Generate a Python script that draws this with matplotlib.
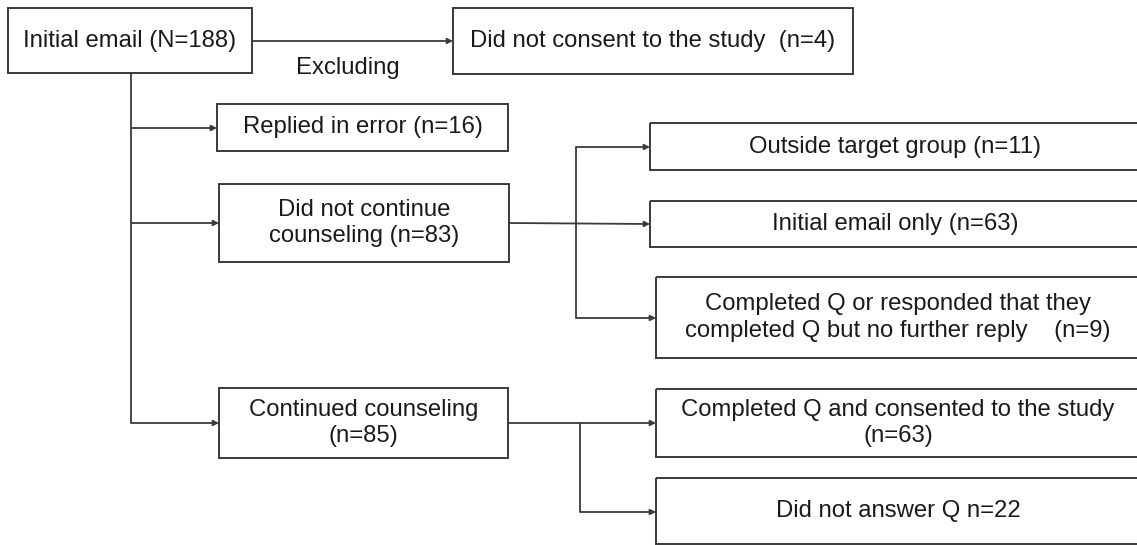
import matplotlib
matplotlib.use("Agg")
import matplotlib.pyplot as plt
from matplotlib.patches import Rectangle

plt.rcParams['font.family'] = ['Liberation Sans', 'DejaVu Sans']

# box labels
start_label = "Initial email (N=188)"
excluded_label = "Did not consent to the study  (n=4)"
branch_labels = ["Replied in error (n=16)",
                 "Did not continue\ncounseling (n=83)",
                 "Continued counseling\n(n=85)"]
stopped_labels = ["Outside target group (n=11)",
                  "Initial email only (n=63)",
                  "Completed Q or responded that they\ncompleted Q but no further reply    (n=9)"]
continued_labels = ["Completed Q and consented to the study\n(n=63)",
                    "Did not answer Q n=22"]
note_label = "Excluding"

LINE = "#3a3a3a"
FS = 17.2

fig = plt.figure(figsize=(11.37, 5.45), dpi=100)
ax = fig.add_axes([0, 0, 1, 1])
ax.set_xlim(0, 1137)
ax.set_ylim(545, 0)
ax.axis("off")


def box(x0, y0, x1, y1, label, fs=FS):
    ax.add_patch(Rectangle((x0, y0), x1 - x0, y1 - y0, fill=False,
                           edgecolor=LINE, linewidth=1.4))
    ax.text((x0 + x1) / 2, (y0 + y1) / 2, label, ha="center", va="center",
            fontsize=fs, color="#1a1a1a", linespacing=1.26)


def arrow(x0, y0, x1, y1):
    ax.annotate("", xy=(x1, y1), xytext=(x0, y0),
                arrowprops=dict(arrowstyle="-|>", color=LINE, lw=1.3,
                                mutation_scale=8, shrinkA=0, shrinkB=0))


def line(xs, ys):
    ax.plot(xs, ys, color=LINE, lw=1.3, solid_capstyle="butt")


box(8, 8, 252, 73, start_label)
box(453, 8, 853, 74, excluded_label)
arrow(252, 41, 453, 41)
ax.text(348, 68, note_label, ha="center", va="center", fontsize=FS, color="#1a1a1a")

# trunk with three branches
line([131, 131], [73, 423])
branch_boxes = [(217, 104, 508, 151), (219, 184, 509, 262), (219, 388, 508, 458)]
for (x0, y0, x1, y1), lab in zip(branch_boxes, branch_labels):
    box(x0, y0, x1, y1, lab)
    ym = (y0 + y1) / 2 if lab != branch_labels[0] else 128
    arrow(131, ym, x0, ym)

# did not continue -> three outcomes
stopped_boxes = [(650, 123, 1140, 170), (650, 201, 1140, 247), (656, 277, 1140, 358)]
for (x0, y0, x1, y1), lab in zip(stopped_boxes, stopped_labels):
    box(x0, y0, x1, y1, lab)
arrow(509, 223, 650, 224)
line([576, 576], [147, 318])
arrow(576, 147, 650, 147)
arrow(576, 318, 656, 318)

# continued -> two outcomes
continued_boxes = [(656, 389, 1140, 457), (656, 478, 1140, 544)]
for (x0, y0, x1, y1), lab in zip(continued_boxes, continued_labels):
    box(x0, y0, x1, y1, lab)
arrow(508, 423, 656, 423)
line([580, 580], [423, 512])
arrow(580, 512, 656, 512)

fig.savefig("out.png", dpi=100)
